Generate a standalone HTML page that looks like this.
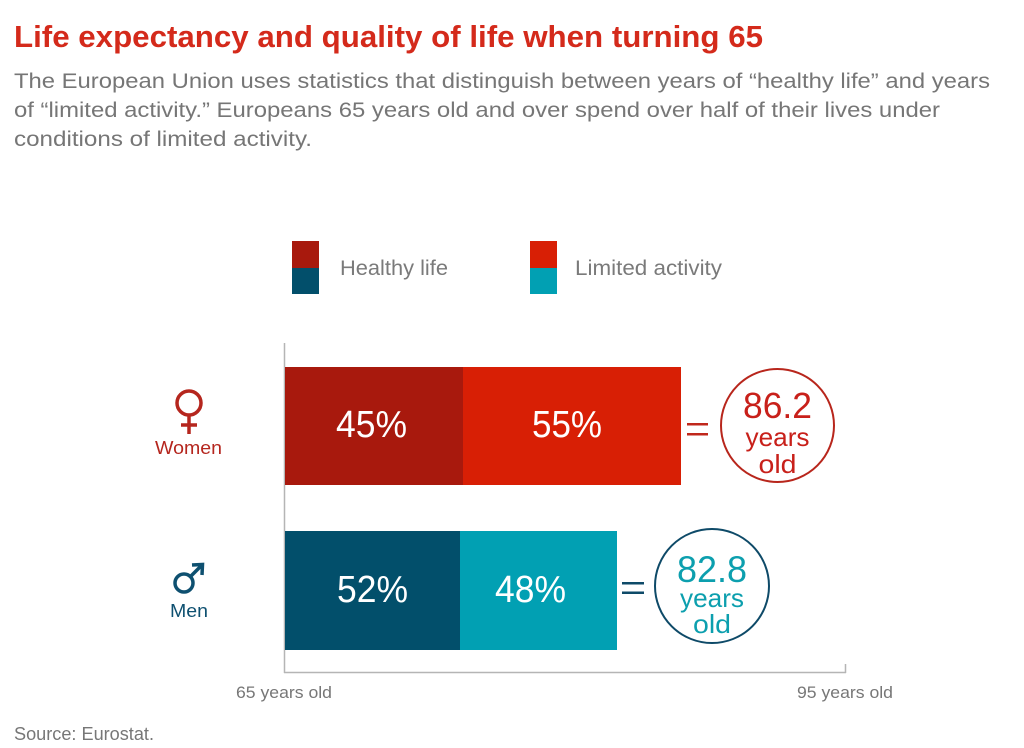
<!DOCTYPE html>
<html>
<head>
<meta charset="utf-8">
<style>
  html, body { margin: 0; padding: 0; background: #ffffff; }
  svg { display: block; }
  text { font-family: "Liberation Sans Narrow", "Liberation Sans", sans-serif; }
</style>
</head>
<body>
<svg width="1024" height="748" viewBox="0 0 1024 748" xmlns="http://www.w3.org/2000/svg">
  <rect x="0" y="0" width="1024" height="748" fill="#ffffff"/>

  <!-- Title -->
  <text x="14" y="47" font-size="31" font-weight="bold" fill="#d42a1b" textLength="749" lengthAdjust="spacingAndGlyphs">Life expectancy and quality of life when turning 65</text>

  <!-- Subtitle -->
  <text x="14" y="88" font-size="21" fill="#767676" textLength="976" lengthAdjust="spacingAndGlyphs">The European Union uses statistics that distinguish between years of “healthy life” and years</text>
  <text x="14" y="117" font-size="21" fill="#767676" textLength="926" lengthAdjust="spacingAndGlyphs">of “limited activity.” Europeans 65 years old and over spend over half of their lives under</text>
  <text x="14" y="146" font-size="21" fill="#767676" textLength="298" lengthAdjust="spacingAndGlyphs">conditions of limited activity.</text>

  <!-- Legend -->
  <rect x="292" y="241" width="27" height="27" fill="#a8190d"/>
  <rect x="292" y="268" width="27" height="26" fill="#024f6b"/>
  <text x="340" y="275" font-size="21" fill="#7a7a7a" textLength="108" lengthAdjust="spacingAndGlyphs">Healthy life</text>

  <rect x="530" y="241" width="27" height="27" fill="#d81f05"/>
  <rect x="530" y="268" width="27" height="26" fill="#01a0b3"/>
  <text x="575" y="275" font-size="21" fill="#7a7a7a" textLength="147" lengthAdjust="spacingAndGlyphs">Limited activity</text>

  <!-- Axes -->
  <line x1="284.5" y1="343" x2="284.5" y2="673" stroke="#b5b5b5" stroke-width="1.5"/>
  <line x1="284" y1="672.5" x2="846" y2="672.5" stroke="#b5b5b5" stroke-width="1.5"/>
  <line x1="845.5" y1="664" x2="845.5" y2="673" stroke="#b5b5b5" stroke-width="1.5"/>
  <text x="284" y="698" font-size="17" fill="#777777" text-anchor="middle" textLength="96" lengthAdjust="spacingAndGlyphs">65 years old</text>
  <text x="845" y="698" font-size="17" fill="#777777" text-anchor="middle" textLength="96" lengthAdjust="spacingAndGlyphs">95 years old</text>

  <!-- Women bar -->
  <rect x="285" y="367" width="178" height="118" fill="#a8190d"/>
  <rect x="463" y="367" width="218" height="118" fill="#d81f05"/>
  <text x="371.5" y="437" font-size="38" fill="#ffffff" text-anchor="middle" textLength="71" lengthAdjust="spacingAndGlyphs">45%</text>
  <text x="567" y="437" font-size="38" fill="#ffffff" text-anchor="middle" textLength="70" lengthAdjust="spacingAndGlyphs">55%</text>

  <!-- Women equals + circle -->
  <rect x="687" y="423" width="21" height="2.5" fill="#c0281c"/>
  <rect x="687" y="433" width="21" height="2.5" fill="#c0281c"/>
  <circle cx="777.5" cy="425.5" r="56.5" fill="none" stroke="#b8261c" stroke-width="2"/>
  <text x="777.5" y="418" font-size="36" fill="#c8201a" text-anchor="middle" textLength="69" lengthAdjust="spacingAndGlyphs">86.2</text>
  <text x="777.5" y="446" font-size="26" fill="#c8201a" text-anchor="middle" textLength="64" lengthAdjust="spacingAndGlyphs">years</text>
  <text x="777.5" y="473" font-size="26" fill="#c8201a" text-anchor="middle" textLength="38" lengthAdjust="spacingAndGlyphs">old</text>

  <!-- Women symbol -->
  <circle cx="189" cy="403" r="12" fill="none" stroke="#b5261e" stroke-width="3.5"/>
  <line x1="189" y1="415" x2="189" y2="434" stroke="#b5261e" stroke-width="3.5"/>
  <line x1="181" y1="425" x2="197" y2="425" stroke="#b5261e" stroke-width="3.5"/>
  <text x="188.5" y="454" font-size="18" fill="#b5261e" text-anchor="middle" textLength="67" lengthAdjust="spacingAndGlyphs">Women</text>

  <!-- Men bar -->
  <rect x="285" y="531" width="175" height="119" fill="#024f6b"/>
  <rect x="460" y="531" width="157" height="119" fill="#01a0b3"/>
  <text x="372.5" y="602" font-size="38" fill="#ffffff" text-anchor="middle" textLength="71" lengthAdjust="spacingAndGlyphs">52%</text>
  <text x="530.5" y="602" font-size="38" fill="#ffffff" text-anchor="middle" textLength="71" lengthAdjust="spacingAndGlyphs">48%</text>

  <!-- Men equals + circle -->
  <rect x="622" y="582" width="22" height="2.5" fill="#0e4a68"/>
  <rect x="622" y="591.5" width="22" height="2.5" fill="#0e4a68"/>
  <circle cx="712" cy="586" r="57" fill="none" stroke="#0e4a68" stroke-width="2"/>
  <text x="712" y="582" font-size="37" fill="#0c9fae" text-anchor="middle" textLength="70" lengthAdjust="spacingAndGlyphs">82.8</text>
  <text x="712" y="607" font-size="26" fill="#0c9fae" text-anchor="middle" textLength="64" lengthAdjust="spacingAndGlyphs">years</text>
  <text x="712" y="633" font-size="26" fill="#0c9fae" text-anchor="middle" textLength="38" lengthAdjust="spacingAndGlyphs">old</text>

  <!-- Men symbol -->
  <circle cx="184" cy="583" r="9" fill="none" stroke="#0e5070" stroke-width="3.5"/>
  <line x1="190.5" y1="576.5" x2="202" y2="565" stroke="#0e5070" stroke-width="3.5"/>
  <polyline points="192,565 202.5,564.5 202,575" fill="none" stroke="#0e5070" stroke-width="3.5"/>
  <text x="189" y="617" font-size="18" fill="#0e5070" text-anchor="middle" textLength="38" lengthAdjust="spacingAndGlyphs">Men</text>

  <!-- Source -->
  <text x="14" y="740" font-size="18" fill="#777777" textLength="140" lengthAdjust="spacingAndGlyphs">Source: Eurostat.</text>
</svg>
</body>
</html>
